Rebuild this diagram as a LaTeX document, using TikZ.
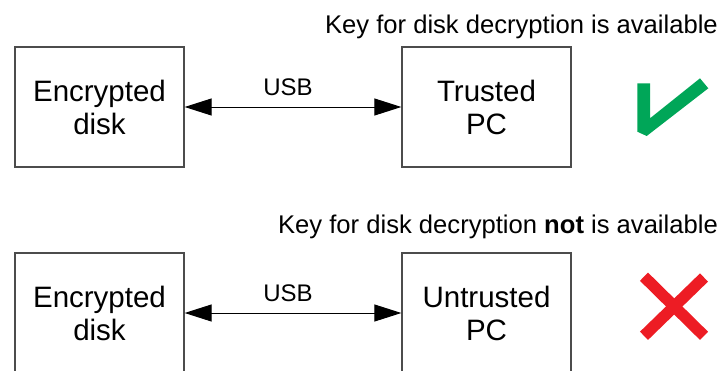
\documentclass[tikz,border=0pt]{standalone}
\usepackage{fontspec}
\setmainfont{Liberation Sans}
\usetikzlibrary{arrows.meta}
\definecolor{okgreen}{RGB}{0,166,88}
\definecolor{nored}{RGB}{237,28,36}
\begin{document}
\begin{tikzpicture}[x=1pt, y=-1pt,
    every node/.style={inner sep=0pt},
    devbox/.style={draw=black!70, line width=1.3pt, minimum width=169pt, minimum height=120pt,
                   align=center, font=\fontsize{29.5}{33}\selectfont},
    usblink/.style={line width=1pt, {Triangle[length=27pt, width=17pt]}-{Triangle[length=27pt, width=17pt]}},
    keytext/.style={anchor=base east, font=\fontsize{25.6}{30}\selectfont},
    usbtext/.style={anchor=base, font=\fontsize{24}{28}\selectfont}]
    \useasboundingbox (0,0) rectangle (721,370);
    \clip (0,0) rectangle (721,370);

    % Trusted case
    \node[keytext] (key1) at (718,33) {Key for disk decryption is available};
    \node[devbox] (disk1) at (99.5,107) {Encrypted\\disk};
    \node[devbox] (pc1) at (486.5,107) {Trusted\\PC};
    \draw[usblink] (disk1) -- (pc1);
    \node[usbtext] (usb1) at (288,95) {USB};
    \fill[okgreen] (637.3,83.3) -- (650,83.3) -- (650,118.3) -- (700,78.3) -- (708.3,88.3)
        -- (646.7,136) -- (637.3,131.7) -- cycle;

    % Untrusted case
    \node[keytext] (key2) at (718,233) {Key for disk decryption \textbf{not} is available};
    \node[devbox] (disk2) at (99.5,313) {Encrypted\\disk};
    \node[devbox] (pc2) at (486.5,313) {Untrusted\\PC};
    \draw[usblink] (disk2) -- (pc2);
    \node[usbtext] (usb2) at (288,301) {USB};
    \draw[nored, line width=11.5pt] (644,276.7) -- (704,335.8);
    \draw[nored, line width=11.5pt] (704,277.5) -- (644,335.8);

    \end{tikzpicture}
\end{document}
